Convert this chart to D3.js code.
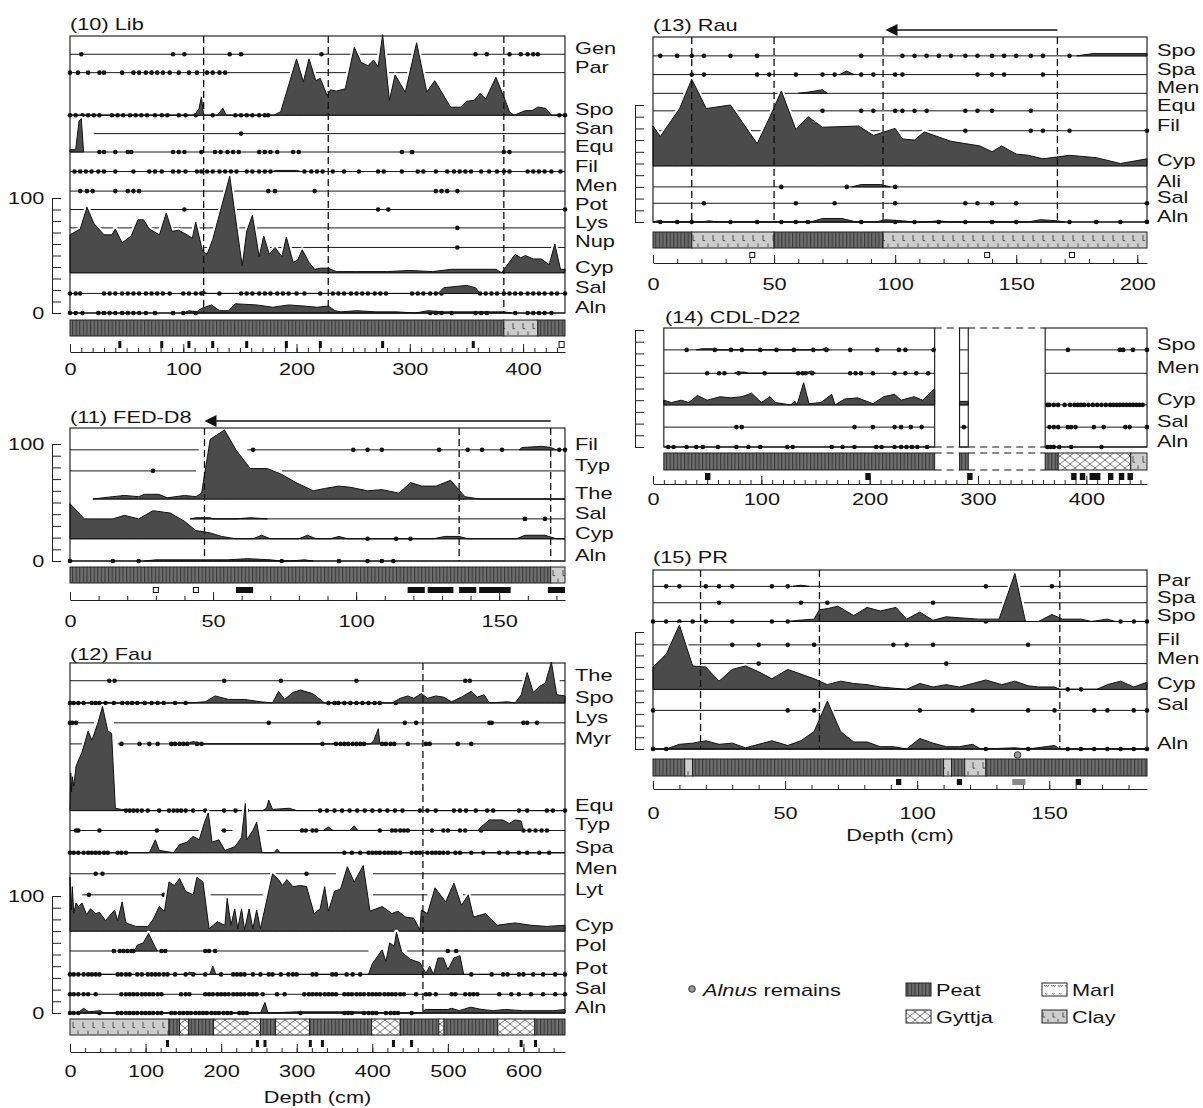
<!DOCTYPE html>
<html>
<head>
<meta charset="utf-8">
<script src="https://cdn.jsdelivr.net/npm/d3@7"></script>
<style>
  body { margin: 0; background: #fff; }
  text { font-family: "Liberation Sans", Arial, sans-serif; fill: #151515; }
</style>
</head>
<body>
<svg id="chart" width="1203" height="1108"></svg>
<script>
// ---------- data (depths in cm, values in % of the panel scale) ----------
// base = stacking offset of each taxon on the panel % scale

const libCore = [[0, 437]];
const libTaxa = [
  {name: "Gen", base: 225, dots: [10, 91, 101, 141, 151, 222, 358, 368, 388, 398, 404, 409, 413]},
  {name: "Par", base: 209, dots: [0, 7, 16, 26, 30, 46, 56, 61, 67, 72, 77, 82, 88, 96, 105, 112, 121, 126, 132, 137]},
  {name: "Spo", base: 172,
   area: [[0,0],[110,0],[114,6],[116,16],[118,0],[130,0],[135,6],[138,0],[180,0],[186,3],[200,49],[206,29],[211,49],[217,30],[221,32],[227,17],[230,22],[235,21],[243,23],[251,59],[257,46],[263,43],[268,48],[272,42],[276,70],[282,13],[287,35],[296,20],[306,63],[315,20],[322,30],[336,7],[345,7],[350,12],[357,13],[362,19],[367,14],[376,33],[383,16],[388,3],[392,0],[402,4],[408,4],[413,7],[420,6],[425,0],[437,0]],
   dots: [0, 5, 11, 16, 21, 26, 37, 42, 47, 53, 58, 63, 68, 75, 81, 86, 96, 102, 111, 126, 146, 151, 156, 161, 167, 172, 175, 432, 437]},
  {name: "San", base: 156, segs: [[21, 437]], dots: [151]},
  {name: "Equ", base: 140, area: [[0,2],[5,2],[8,27],[10,29],[12,0]],
   dots: [26, 30, 40, 51, 54, 91, 96, 101, 116, 128, 133, 139, 144, 149, 167, 172, 177, 183, 197, 202, 293, 302, 383, 388]},
  {name: "Fil", base: 123, area: [[178,0],[182,1],[200,1],[204,0]],
   dots: [4, 9, 14, 19, 25, 30, 40, 56, 70, 75, 81, 91, 96, 102, 112, 116, 121, 126, 132, 137, 142, 147, 156, 161, 167, 172, 177, 207, 213, 218, 223, 232, 242, 255, 272, 277, 293, 307, 312, 323, 333, 339, 344, 349, 354, 363, 370, 377, 383, 388, 404, 409, 414, 419, 425, 433]},
  {name: "Men", base: 106, dots: [9, 15, 20, 40, 51, 56, 61, 175, 181, 216, 323, 328, 333, 342]},
  {name: "Pot", base: 90, dots: [101, 272, 281, 437]},
  {name: "Lys", base: 74, dots: [342]},
  {name: "Nup", base: 57, dots: [342]},
  {name: "Cyp", base: 35,
   area: [[0,33],[9,38],[15,57],[21,43],[30,33],[37,33],[40,38],[46,26],[54,32],[60,46],[65,46],[70,38],[79,33],[85,52],[90,36],[96,37],[105,32],[108,30],[111,44],[117,19],[121,16],[126,29],[141,84],[152,6],[156,36],[161,50],[167,14],[171,32],[176,16],[181,22],[187,14],[191,31],[197,9],[201,11],[205,20],[211,9],[216,3],[221,4],[228,4],[235,1],[253,1],[280,1],[300,2],[320,1],[337,3],[376,3],[381,0],[393,16],[398,13],[402,15],[409,12],[416,12],[423,7],[428,25],[433,3],[437,3]]},
  {name: "Sal", base: 17, area: [[114,0],[118,2],[121,0],[325,0],[330,5],[340,6],[350,7],[358,5],[362,0]],
   dots: [0, 5, 9, 30, 35, 40, 46, 51, 56, 61, 67, 72, 77, 82, 88, 100, 105, 111, 116, 132, 151, 156, 161, 167, 172, 177, 183, 188, 193, 200, 207, 221, 232, 237, 242, 248, 253, 258, 263, 269, 274, 279, 302, 307, 312, 318, 323, 328, 362, 367, 372, 377, 383, 388, 393, 398, 404, 409, 414, 419, 425, 430, 437]},
  {name: "Aln", base: 0,
   area: [[100,0],[105,2],[112,1],[116,4],[125,7],[132,2],[140,2],[146,8],[165,7],[179,5],[193,7],[207,6],[218,5],[228,6],[234,2],[239,1],[253,2],[270,1],[288,1],[305,0],[316,2],[330,1],[383,1],[390,0]],
   dots: [0, 5, 11, 25, 30, 35, 40, 46, 51, 56, 61, 67, 75, 91, 100, 111, 318, 323, 328, 337, 358, 363, 368, 393, 404, 409, 414, 419, 425]}
];
const libLitho = [["peat", 0, 383], ["clay", 383, 413], ["peat", 413, 437]];
const libSamples = [[44,44,"tick"],[81,81,"tick"],[105,105,"tick"],[126,126,"tick"],[156,156,"tick"],[191,191,"tick"],[221,221,"tick"],[276,276,"tick"],[356,356,"tick"],[434,434,"open"]];
const libZones = [118, 228, 383];

const fedCore = [[0, 173]];
const fedTaxa = [
  {name: "Fil", base: 95, segs: [[0, 45], [62, 173]], area: [[157,0],[158,2],[165,3],[168,2],[170,0]],
   dots: [64, 99, 104, 109, 129, 139, 144, 151, 171, 173]},
  {name: "Typ", base: 77, segs: [[0, 44], [74, 173]], dots: [29]},
  {name: "The", base: 53, segs: [[8, 173]],
   area: [[8,0],[15,2],[19,3],[24,2],[26,4],[31,4],[34,1],[40,3],[44,2],[46,5],[49,51],[54,59],[58,42],[63,26],[69,26],[74,21],[79,14],[85,7],[89,9],[94,11],[98,10],[104,7],[109,8],[115,5],[119,14],[123,11],[128,11],[133,16],[138,2],[143,0],[173,0]]},
  {name: "Sal", base: 36, segs: [[42, 173]], area: [[42,0],[44,1],[49,1],[50,0],[58,0],[63,1],[69,0]], dots: [159, 166]},
  {name: "Cyp", base: 19,
   area: [[0,30],[5,17],[8,17],[15,17],[19,20],[24,17],[29,24],[35,22],[40,15],[44,7],[49,5],[53,2],[58,0],[64,0],[67,3],[70,0],[80,0],[83,3],[86,0],[91,0],[94,2],[97,0],[127,0],[131,2],[136,2],[139,0],[156,0],[159,3],[166,3],[170,0],[173,0]],
   dots: [104, 114, 119]},
  {name: "Aln", base: 0, area: [[26,0],[30,1],[55,1],[62,2],[70,1],[74,0],[77,0],[82,1],[85,0]],
   dots: [0, 15, 24, 74, 94, 104, 109, 113]}
];
const fedLitho = [["peat", 0, 168], ["clay", 168, 173]];
const fedSamples = [[30,30,"open"],[44,44,"open"],[58,64,"box"],[118,124,"box"],[125,134,"box"],[136,142,"box"],[143,154,"box"],[167,173,"box"]];
const fedZones = [47, 136, 168];
const fedArrow = [168, 47];

const fauCore = [[0, 655]];
const fauTaxa = [
  {name: "The", base: 284, segs: [[0, 600], [648, 655]], dots: [52, 59, 204, 279, 379, 523, 529]},
  {name: "Spo", base: 265,
   area: [[0,0],[158,0],[179,1],[192,6],[210,3],[231,3],[252,1],[268,0],[276,10],[284,3],[295,9],[305,11],[321,8],[337,0],[426,0],[437,4],[447,6],[455,4],[465,8],[473,4],[484,6],[494,5],[505,1],[518,5],[531,10],[539,5],[548,7],[555,0],[579,1],[589,0],[597,7],[605,26],[613,9],[621,14],[629,17],[637,35],[644,7],[655,6]],
   dots: [0, 5, 11, 18, 29, 34, 39, 47, 58, 69, 76, 82, 89, 99, 108, 116, 124, 139, 153, 342, 350, 355, 363, 371, 379, 387, 395, 403, 410, 431]},
  {name: "Lys", base: 248, segs: [[0, 32], [58, 655]], dots: [0, 3, 8, 263, 329, 443, 458, 555, 558, 600, 605, 618]},
  {name: "Myr", base: 230, segs: [[0, 16], [63, 655]], area: [[150,0],[158,1],[163,2],[170,1],[176,0],[398,0],[402,3],[408,13],[410,0]],
   dots: [68, 92, 105, 116, 134, 139, 145, 150, 155, 168, 174, 334, 352, 358, 363, 368, 374, 379, 384, 389, 413, 418, 424, 429, 447, 471, 476, 513, 531]},
  {name: "Equ", base: 173,
   area: [[0,0],[1,32],[2,16],[3,29],[5,21],[8,38],[16,50],[24,68],[29,60],[37,75],[43,89],[50,68],[55,66],[60,2],[68,1],[100,0],[255,0],[260,2],[263,9],[268,1],[290,2],[300,0],[655,0]],
   dots: [74, 79, 84, 89, 95, 103, 118, 131, 137, 142, 147, 153, 163, 179, 204, 219, 234, 331, 340, 350, 360, 370, 380, 390, 400, 410, 420, 430, 440, 463, 473, 484, 508, 516, 524, 537, 552, 560, 594, 605, 631, 639, 655]},
  {name: "Typ", base: 156, segs: [[0, 170], [200, 215], [260, 655]],
   area: [[335,0],[342,3],[348,0],[370,0],[376,4],[381,0],[540,0],[544,3],[555,9],[573,9],[581,6],[589,9],[597,8],[600,0]],
   dots: [8, 11, 39, 115, 204, 307, 312, 321, 326, 410, 426, 431, 437, 442, 447, 479, 494, 500, 516, 523, 544, 600, 608, 616, 624, 631]},
  {name: "Spa", base: 137,
   area: [[0,0],[105,0],[113,11],[118,2],[137,0],[145,7],[155,9],[163,14],[171,11],[178,26],[183,34],[188,9],[197,11],[205,2],[218,5],[227,13],[232,42],[234,11],[242,19],[247,26],[254,0],[270,0],[274,3],[278,0],[655,0]],
   dots: [0, 5, 11, 18, 24, 29, 34, 39, 45, 50, 63, 68, 74, 363, 373, 384, 395, 400, 405, 410, 416, 421, 426, 431, 437, 452, 458, 463, 473, 479, 484, 489, 494, 500, 510, 516, 531, 547, 568, 579, 594, 605, 621, 634]},
  {name: "Men", base: 119, segs: [[0, 352], [401, 655]], dots: [34, 43, 313]},
  {name: "Lyt", base: 101, segs: [[16, 126], [186, 255], [401, 473], [520, 655]], dots: [25, 124]},
  {name: "Cyp", base: 70,
   area: [[0,46],[2,18],[3,38],[5,15],[8,24],[11,21],[16,24],[22,14],[27,19],[34,15],[39,16],[47,9],[59,18],[63,9],[69,25],[74,7],[87,4],[103,4],[110,10],[118,21],[125,17],[131,42],[138,39],[145,45],[153,34],[163,31],[168,46],[176,42],[184,2],[195,8],[205,5],[208,28],[213,5],[218,19],[222,2],[227,19],[231,1],[237,19],[242,2],[247,18],[252,2],[268,49],[276,44],[281,39],[287,44],[295,38],[305,39],[313,38],[323,15],[331,19],[337,38],[342,17],[350,34],[358,36],[367,55],[376,42],[388,56],[397,17],[413,21],[426,15],[434,17],[444,12],[455,11],[463,1],[465,18],[473,15],[483,37],[497,25],[508,41],[518,22],[527,31],[534,12],[550,15],[565,5],[589,7],[610,5],[631,4],[655,5]]},
  {name: "Pol", base: 53, segs: [[0, 395], [446, 655]], area: [[85,0],[89,5],[97,7],[104,15],[113,3],[116,0]],
   dots: [58, 66, 71, 76, 81, 84, 121, 126, 179, 184, 192, 500, 511]},
  {name: "Pot", base: 33,
   area: [[0,0],[155,0],[158,2],[163,1],[168,0],[185,0],[189,7],[193,0],[395,0],[400,9],[413,21],[418,11],[423,27],[429,24],[432,36],[439,19],[450,13],[463,10],[471,1],[476,7],[481,0],[487,14],[494,14],[500,4],[508,14],[516,16],[521,0],[655,0]],
   dots: [0, 5, 11, 18, 24, 29, 34, 39, 63, 68, 74, 79, 89, 95, 103, 108, 113, 118, 124, 129, 139, 153, 163, 179, 200, 216, 221, 226, 231, 242, 252, 263, 268, 279, 289, 295, 300, 321, 326, 347, 352, 366, 374, 384, 531, 558, 573, 579, 594, 600, 613, 626, 642, 655]},
  {name: "Sal", base: 16,
   dots: [0, 5, 11, 18, 24, 34, 68, 74, 79, 84, 89, 95, 100, 105, 110, 116, 121, 147, 153, 158, 179, 184, 189, 195, 200, 205, 210, 216, 221, 226, 231, 237, 242, 247, 255, 274, 284, 310, 316, 321, 326, 331, 337, 342, 347, 352, 363, 368, 373, 379, 384, 389, 395, 400, 405, 410, 416, 421, 426, 431, 437, 442, 458, 471, 476, 484, 505, 510, 523, 529, 534, 539, 568, 584, 594, 610, 626, 642, 655]},
  {name: "Aln", base: 0,
   area: [[10,0],[18,4],[25,1],[40,2],[45,0],[252,0],[258,9],[262,0],[300,1],[380,1],[440,0],[465,0],[470,3],[500,3],[505,4],[515,2],[530,5],[545,3],[560,2],[575,3],[600,2],[640,2],[655,3]],
   dots: [0, 5, 11, 39, 63, 68, 74, 79, 84, 89, 95, 100, 105, 110, 116, 121, 134, 139, 145, 150, 155, 160, 166, 171, 176, 181, 187, 192, 197, 203, 208, 213, 224, 229, 234, 305, 363, 368, 373, 389, 395, 400, 405, 418, 424, 429, 434, 452]}
];
const fauLitho = [["clay",0,131],["peat",131,145],["gyttja",145,157],["peat",157,190],["gyttja",190,252],["peat",252,272],["gyttja",272,317],["peat",317,399],["gyttja",399,437],["peat",437,488],["gyttja",488,495],["peat",495,566],["gyttja",566,615],["peat",615,655]];
const fauSamples = [129, 248, 258, 318, 334, 428, 452, 597, 616].map(d => [d, d, "tick"]);
const fauZones = [467];

const rauCore = [[0, 204]];
const rauTaxa = [
  {name: "Spo", base: 142, area: [[175,0],[182,2],[204,2]],
   dots: [3, 10, 16, 21, 32, 43, 86, 103, 108, 113, 118, 123, 129, 134, 140, 145, 150, 156, 161, 172]},
  {name: "Spa", base: 126, area: [[77,0],[80,3],[83,0]],
   dots: [16, 21, 43, 48, 59, 70, 75, 86, 91, 100, 103, 134, 140, 145, 161]},
  {name: "Men", base: 110, area: [[60,0],[64,1],[70,3],[72,0]], dots: []},
  {name: "Equ", base: 95, dots: [70, 86, 91, 100, 103, 108, 113, 129, 134, 140, 156]},
  {name: "Fil", base: 78, dots: [129, 156, 161, 172, 204]},
  {name: "Cyp", base: 48,
   area: [[0,34],[3,25],[11,49],[16,74],[22,49],[32,52],[43,19],[49,45],[53,64],[59,31],[64,42],[70,33],[85,34],[91,26],[100,32],[103,23],[108,22],[112,29],[123,21],[129,19],[135,17],[140,12],[144,17],[150,10],[155,9],[161,6],[172,9],[183,7],[193,2],[204,6]]},
  {name: "Ali", base: 30, area: [[82,0],[86,2],[94,2],[98,0]], dots: [53, 80, 100]},
  {name: "Sal", base: 16, dots: [21, 59, 75, 100, 129, 134, 140, 150, 204]},
  {name: "Aln", base: 0,
   area: [[0,0],[2,1],[5,0],[20,0],[23,1],[27,0],[65,0],[70,3],[78,3],[84,0],[92,0],[96,2],[103,1],[108,0],[112,0],[118,1],[123,0],[155,0],[160,2],[167,1],[170,0]],
   dots: [3, 10, 16, 32, 43, 53, 59, 64, 86, 100, 108, 118, 129, 140, 150, 172, 183, 193, 204]}
];
const rauLitho = [["peat", 0, 16], ["clay", 16, 50], ["peat", 50, 95], ["clay", 95, 204]];
const rauSamples = [[41,41,"open"],[138,138,"open"],[173,173,"open"]];
const rauZones = [16, 50, 95, 167];
const rauArrow = [167, 96];

const cdlCore = [[10, 260], [283, 291], [362, 456]];
const cdlTaxa = [
  {name: "Spo", base: 83, area: [[40,0],[45,1],[55,1],[58,0],[155,0],[160,2],[163,0]],
   dots: [31, 57, 72, 82, 99, 114, 130, 148, 160, 182, 207, 227, 233, 259, 383, 431, 434, 443, 456]},
  {name: "Men", base: 63, area: [[75,0],[78,1],[85,1],[88,0],[140,0],[146,2],[150,0]],
   dots: [50, 61, 66, 79, 103, 134, 138, 141, 147, 182, 187, 192, 203, 223, 233, 243, 254]},
  {name: "Cyp", base: 36,
   area: [[10,4],[17,2],[26,4],[33,2],[41,8],[50,4],[62,7],[72,6],[82,7],[91,10],[100,2],[108,7],[113,2],[127,0],[131,3],[133,0],[139,19],[144,1],[155,2],[165,9],[168,0],[177,5],[189,6],[203,1],[213,7],[223,9],[229,4],[241,7],[249,4],[259,13],[260,13],[260,null],[283,3],[291,3]],
   dots: [364, 366, 370, 374, 380, 385, 389, 392, 395, 398, 402, 406, 410, 414, 418, 422, 425, 428, 431, 434, 437, 440, 443, 446, 449, 452]},
  {name: "Sal", base: 17,
   dots: [77, 82, 186, 203, 223, 229, 238, 248, 287, 366, 370, 374, 383, 386, 390, 407, 416, 436, 440, 456]},
  {name: "Aln", base: 0,
   dots: [14, 19, 31, 40, 46, 60, 77, 88, 99, 124, 129, 165, 175, 186, 206, 211, 223, 229, 234, 239, 244, 253, 364, 367, 370, 375, 386, 414]}
];
const cdlLitho = [["peat", 10, 260], ["peat", 283, 291], ["peat", 362, 374], ["gyttja", 374, 441], ["clay", 441, 456]];
const cdlSamples = [[48,53,"box"],[196,201,"box"],[290,295,"box"],[386,391,"box"],[394,399,"box"],[403,413,"box"],[420,425,"box"],[430,435,"box"],[438,443,"box"]];

const prCore = [[0, 187]];
const prTaxa = [
  {name: "Par", base: 139, area: [[53,0],[56,1],[59,0]], dots: [5, 10, 20, 25, 30, 45, 51, 126, 151]},
  {name: "Spa", base: 125, dots: [25, 56, 66, 106]},
  {name: "Spo", base: 109,
   area: [[0,0],[51,0],[55,1],[61,2],[63,10],[66,11],[70,13],[76,5],[81,12],[86,9],[92,12],[96,2],[101,8],[106,1],[111,4],[117,3],[123,2],[131,2],[137,41],[141,0],[146,0],[151,6],[155,2],[162,2],[166,0],[172,2],[175,0],[187,0]],
   dots: [0, 5, 10, 15, 20, 30, 45, 51, 126, 177, 182, 187]},
  {name: "Fil", base: 89, dots: [30, 40, 51, 61, 91, 96, 106, 142]},
  {name: "Men", base: 73, segs: [[18, 187]], dots: [40, 111]},
  {name: "Cyp", base: 51,
   area: [[0,19],[5,30],[10,55],[15,20],[20,19],[25,7],[30,17],[35,20],[40,15],[45,9],[51,17],[56,13],[61,9],[66,4],[71,7],[76,5],[81,4],[86,2],[96,0],[101,5],[106,2],[111,4],[116,2],[121,5],[126,8],[132,4],[137,7],[142,3],[146,2],[152,2],[154,0],[168,0],[172,4],[177,7],[182,2],[187,6]],
   dots: [157, 162]},
  {name: "Sal", base: 33, dots: [0, 51, 61, 101, 121, 142, 152, 167, 172, 182, 187]},
  {name: "Aln", base: 0,
   area: [[0,0],[5,0],[10,4],[15,5],[20,7],[25,4],[30,5],[35,1],[40,4],[45,7],[51,3],[56,7],[61,15],[66,41],[71,15],[76,6],[81,6],[86,2],[91,2],[96,0],[101,9],[106,5],[111,2],[116,2],[121,4],[124,0],[137,1],[142,0],[152,3],[154,0],[187,0]],
   dots: [0, 5, 126, 142, 157, 162, 167, 172, 177, 182, 187]}
];
const prLitho = [["peat",0,12],["clay",12,15],["peat",15,110],["clay",110,113],["peat",113,118],["clay",118,126],["peat",126,187]];
const prSamples = [[92,94,"box"],[115,117,"box"],[136,141,"grey"],[160,162,"box"]];
const prZones = [18, 63, 154];
const prAlnus = [138];

const legendLitho = [["Peat", "peat"], ["Gyttja", "gyttja"], ["Marl", "marl"], ["Clay", "clay"]];

// ---------- layout (pixels) ----------
const layout = {
  lib: {title: "(10) Lib", x0: 70, x1: 565, top: 36, zero: 313, k: 1.15, axisX: 52, yLabels: true, lith: [320, 336], samp: [341, 348], axisY: 352, labelY: 375, step: 10, major: 100, titleXY: [70, 30]},
  fed: {title: "(11) FED-D8", x0: 70, x1: 565, top: 428, zero: 561, k: 1.17, axisX: 52, yLabels: true, lith: [567, 583], samp: [587, 593], axisY: 600, labelY: 627, step: 10, major: 50, titleXY: [70, 423], arrowY: 421},
  fau: {title: "(12) Fau", x0: 70, x1: 565, top: 663, zero: 1013, k: 1.17, axisX: 52, yLabels: true, lith: [1019, 1035], samp: [1040, 1047], axisY: 1052, labelY: 1077, step: 20, major: 100, titleXY: [70, 660], xTitleY: 1103},
  rau: {title: "(13) Rau", x0: 653, x1: 1147, top: 37, zero: 222, k: 1.17, axisX: 635, yLabels: false, lith: [232, 248], samp: [252, 258], axisY: 263, labelY: 290, step: 10, major: 50, titleXY: [653, 31], arrowY: 30},
  cdl: {title: "(14) CDL-D22", x0: 653, x1: 1147, top: 328, zero: 447, k: 1.17, axisX: 635, yLabels: false, lith: [453, 470], samp: [473, 480], axisY: 484, labelY: 505, step: 10, major: 100, titleXY: [665, 323]},
  pr: {title: "(15) PR", x0: 653, x1: 1147, top: 570, zero: 749, k: 1.17, axisX: 635, yLabels: false, lith: [759, 776], samp: [779, 785], axisY: 789, labelY: 819, step: 10, major: 50, titleXY: [653, 563], xTitleY: 841}
};

const svg = d3.select("#chart");
const defs = svg.append("defs");
const SX = 1.28;

function txt(g, x, y, s, size, anchor) {
  return g.append("text")
    .attr("transform", `translate(${x},${y}) scale(${SX},1)`)
    .attr("font-size", size || 17)
    .attr("text-anchor", anchor || "start")
    .text(s);
}

// peat & gyttja patterns (global)
const peat = defs.append("pattern").attr("id", "peat").attr("patternUnits", "userSpaceOnUse")
  .attr("width", 3.6).attr("height", 10);
peat.append("rect").attr("width", 3.6).attr("height", 10).attr("fill", "#6e6e6e");
peat.append("line").attr("x1", 0.6).attr("x2", 0.6).attr("y1", 0).attr("y2", 10).attr("stroke", "#383838").attr("stroke-width", 1.1);

const gy = defs.append("pattern").attr("id", "gyttja").attr("patternUnits", "userSpaceOnUse")
  .attr("width", 10).attr("height", 8);
gy.append("rect").attr("width", 10).attr("height", 8).attr("fill", "#fff");
gy.append("path").attr("d", "M0,0L10,8M10,0L0,8").attr("stroke", "#555").attr("stroke-width", 0.8).attr("fill", "none");

function clayPattern(id, y, h) {
  const p = defs.append("pattern").attr("id", id).attr("patternUnits", "userSpaceOnUse")
    .attr("x", 0).attr("y", y).attr("width", 10).attr("height", h);
  p.append("rect").attr("width", 10).attr("height", h).attr("fill", "#cdcdcd");
  p.append("path").attr("d", `M3,${h * 0.18}v${h * 0.36}h2.2M8,${h - 1}v-${h * 0.22}`)
    .attr("stroke", "#333").attr("stroke-width", 0.8).attr("fill", "none");
}
function marlPattern(id, y, h) {
  const p = defs.append("pattern").attr("id", id).attr("patternUnits", "userSpaceOnUse")
    .attr("x", 0).attr("y", y).attr("width", 7).attr("height", h);
  p.append("rect").attr("width", 7).attr("height", h).attr("fill", "#fff");
  p.append("path").attr("d", `M1,2q1.2,3 2.4,0q1.2,3 2.4,0M2,${h - 3}q1.2,3 2.4,0`)
    .attr("stroke", "#444").attr("stroke-width", 0.7).attr("fill", "none");
}

function drawPanel(key, taxa, core, litho, samples, zones, arrow, alnus) {
  const L = layout[key];
  const dmax = core[core.length - 1][1];
  const x = d3.scaleLinear().domain([0, dmax]).range([L.x0, L.x1]);
  const y = d3.scaleLinear().domain([0, 100]).range([L.zero, L.zero - 100 * L.k]);
  const g = svg.append("g").attr("class", "panel-" + key);
  clayPattern("clay-" + key, L.lith[0], L.lith[1] - L.lith[0]);

  const fillOf = t => t === "peat" ? "url(#peat)" : t === "gyttja" ? "url(#gyttja)" : "url(#clay-" + key + ")";

  // lithology bar
  g.append("g").selectAll("rect").data(litho).join("rect")
    .attr("x", d => x(d[1])).attr("width", d => x(d[2]) - x(d[1]))
    .attr("y", L.lith[0]).attr("height", L.lith[1] - L.lith[0])
    .attr("fill", d => fillOf(d[0])).attr("stroke", "#222").attr("stroke-width", 1);

  // sample markers
  const sm = g.append("g");
  samples.forEach(s => {
    const h = L.samp[1] - L.samp[0];
    if (s[2] === "tick") {
      sm.append("rect").attr("x", x(s[0]) - 1.5).attr("width", 3).attr("y", L.samp[0]).attr("height", h).attr("fill", "#111");
    } else if (s[2] === "open") {
      sm.append("rect").attr("x", x(s[0]) - 2.5).attr("width", 5).attr("y", L.samp[0] + 0.5).attr("height", h - 1)
        .attr("fill", "#fff").attr("stroke", "#111").attr("stroke-width", 1);
    } else {
      sm.append("rect").attr("x", x(s[0])).attr("width", Math.max(5, x(s[1]) - x(s[0]))).attr("y", L.samp[0]).attr("height", h)
        .attr("fill", s[2] === "grey" ? "#8a8a8a" : "#111");
    }
  });

  // taxon baselines and presence dots
  const lines = g.append("g").attr("stroke", "#1a1a1a").attr("stroke-width", 1);
  taxa.forEach(t => {
    const segs = t.segs || core;
    segs.forEach(s => {
      lines.append("line").attr("x1", x(s[0])).attr("x2", x(s[1]))
        .attr("y1", y(t.base)).attr("y2", y(t.base));
    });
  });
  const dots = g.append("g").attr("fill", "#111");
  taxa.forEach(t => {
    (t.dots || []).forEach(d => {
      dots.append("circle").attr("cx", x(d)).attr("cy", y(t.base)).attr("r", 2.3);
    });
  });

  // curves, each with a thin white halo above its own baseline
  taxa.filter(t => t.area).forEach((t, i) => {
    const cid = `clip-${key}-${i}`;
    defs.append("clipPath").attr("id", cid).append("rect")
      .attr("x", L.x0).attr("width", L.x1 - L.x0)
      .attr("y", L.top).attr("height", Math.max(0, y(t.base) - 3 - L.top));
    const top = d3.line().defined(d => d[1] !== null).x(d => x(d[0])).y(d => y(t.base + d[1]));
    g.append("path").datum(t.area).attr("d", top).attr("clip-path", `url(#${cid})`)
      .attr("fill", "none").attr("stroke", "#fff").attr("stroke-width", 5).attr("stroke-linejoin", "round");
    const area = d3.area()
      .defined(d => d[1] !== null)
      .x(d => x(d[0])).y0(y(t.base)).y1(d => y(t.base + d[1]));
    g.append("path").datum(t.area).attr("d", area)
      .attr("fill", "#4b4b4b").attr("stroke", "#111").attr("stroke-width", 1).attr("stroke-linejoin", "round");
  });

  // zone boundaries
  g.append("g").selectAll("line").data(zones || []).join("line")
    .attr("x1", d => x(d)).attr("x2", d => x(d))
    .attr("y1", L.top).attr("y2", L.zero)
    .attr("stroke", "#111").attr("stroke-width", 1.3).attr("stroke-dasharray", "7,4");

  // frames
  g.append("g").selectAll("rect").data(core).join("rect")
    .attr("x", d => x(d[0])).attr("width", d => x(d[1]) - x(d[0]))
    .attr("y", L.top).attr("height", L.zero - L.top)
    .attr("fill", "none").attr("stroke", "#111").attr("stroke-width", 1.1);

  // gaps between core segments
  if (core.length > 1) {
    const cg = g.append("g").attr("stroke", "#111").attr("stroke-width", 1.1).attr("stroke-dasharray", "7,5");
    for (let i = 0; i < core.length - 1; i++) {
      [L.top, L.zero, L.lith[0], L.lith[1]].forEach(yy => {
        cg.append("line").attr("x1", x(core[i][1])).attr("x2", x(core[i + 1][0])).attr("y1", yy).attr("y2", yy);
      });
    }
  }

  // taxon labels
  taxa.forEach(t => txt(g, L.x1 + 10, y(t.base), t.name, 17));

  // left % scale
  const ax = g.append("g").attr("transform", `translate(${L.axisX},0)`)
    .call(d3.axisLeft(y).tickValues(d3.range(0, 101, 10)).tickSize(-9).tickSizeOuter(0).tickFormat(""));
  ax.selectAll("path,line").attr("stroke", "#222");
  if (L.yLabels) {
    const al = g.append("g").attr("transform", `translate(${L.axisX},0)`)
      .call(d3.axisLeft(y).tickValues([0, 100]).tickSize(0).tickPadding(6));
    al.select(".domain").remove();
    al.selectAll("text").attr("font-size", 17).attr("font-family", "Liberation Sans, Arial, sans-serif")
      .attr("fill", "#151515").attr("transform", `scale(${SX},1)`);
  }

  // depth axis
  const ticks = d3.range(0, dmax + 0.01, L.step);
  const bx = g.append("g").attr("transform", `translate(0,${L.axisY})`)
    .call(d3.axisBottom(x).tickValues(ticks).tickSize(-4).tickSizeOuter(0).tickFormat(""));
  bx.selectAll("path,line").attr("stroke", "#222");
  const bl = g.append("g").attr("transform", `translate(0,${L.axisY})`)
    .call(d3.axisBottom(x).tickValues(ticks.filter(t => t % L.major === 0)).tickSize(-8).tickSizeOuter(0)
      .tickPadding(L.labelY - L.axisY - 12));
  bl.select(".domain").remove();
  bl.selectAll("line").attr("stroke", "#222");
  bl.selectAll("text").attr("font-size", 17).attr("font-family", "Liberation Sans, Arial, sans-serif")
    .attr("fill", "#151515").attr("transform", `scale(${SX},1)`);

  if (L.xTitleY) txt(g, (L.x0 + L.x1) / 2, L.xTitleY, "Depth (cm)", 17, "middle");

  // title
  txt(g, L.titleXY[0], L.titleXY[1], L.title, 17);

  // direction arrow
  if (arrow) {
    const xa = x(arrow[0]), xb = x(arrow[1]);
    g.append("line").attr("x1", xa).attr("x2", xb + 10).attr("y1", L.arrowY).attr("y2", L.arrowY)
      .attr("stroke", "#111").attr("stroke-width", 1.3);
    g.append("path").attr("d", `M${xb},${L.arrowY}l12,-6v12z`).attr("fill", "#111");
  }

  // Alnus remains
  (alnus || []).forEach(d => {
    g.append("circle").attr("cx", x(d)).attr("cy", L.zero + 6).attr("r", 3.3)
      .attr("fill", "#9a9a9a").attr("stroke", "#333").attr("stroke-width", 1);
  });
}

drawPanel("lib", libTaxa, libCore, libLitho, libSamples, libZones);
drawPanel("fed", fedTaxa, fedCore, fedLitho, fedSamples, fedZones, fedArrow);
drawPanel("fau", fauTaxa, fauCore, fauLitho, fauSamples, fauZones);
drawPanel("rau", rauTaxa, rauCore, rauLitho, rauSamples, rauZones, rauArrow);
drawPanel("cdl", cdlTaxa, cdlCore, cdlLitho, cdlSamples, []);
drawPanel("pr", prTaxa, prCore, prLitho, prSamples, prZones, null, prAlnus);

// ---------- legend ----------
const lg = svg.append("g").attr("class", "legend");
lg.append("circle").attr("cx", 692).attr("cy", 989).attr("r", 3.3)
  .attr("fill", "#9a9a9a").attr("stroke", "#333").attr("stroke-width", 1);
const at = lg.append("text").attr("transform", `translate(703,996) scale(${SX},1)`).attr("font-size", 17);
at.append("tspan").attr("font-style", "italic").text("Alnus");
at.append("tspan").text(" remains");

clayPattern("clay-legend", 1010, 13);
marlPattern("marl-legend", 983, 13);
const swatch = {peat: "url(#peat)", gyttja: "url(#gyttja)", marl: "url(#marl-legend)", clay: "url(#clay-legend)"};
const legPos = [[906, 983], [906, 1010], [1042, 983], [1042, 1010]];
legendLitho.forEach((d, i) => {
  const [lx, ly] = legPos[i];
  lg.append("rect").attr("x", lx).attr("y", ly).attr("width", 25).attr("height", 13)
    .attr("fill", swatch[d[1]]).attr("stroke", "#222").attr("stroke-width", 1);
  txt(lg, lx + 30, ly + 13, d[0], 17);
});
</script>
</body>
</html>
